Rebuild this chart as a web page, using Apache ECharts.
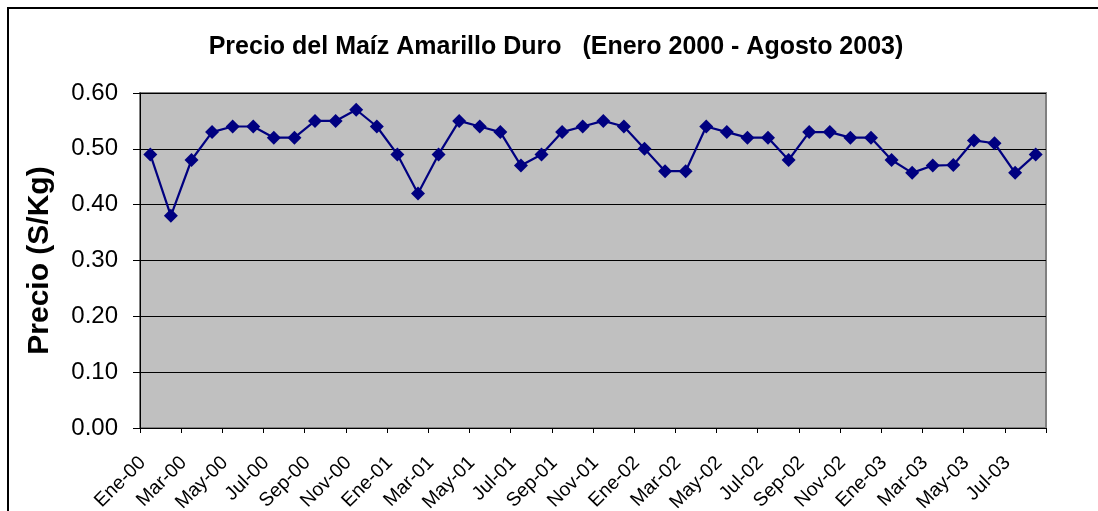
<!DOCTYPE html>
<html>
<head>
<meta charset="utf-8">
<script src="https://cdn.jsdelivr.net/npm/echarts@6/dist/echarts.min.js"></script>
<style>html,body{margin:0;padding:0;background:#fff}#c{width:1098px;height:511px}</style>
</head>
<body>
<div id="c"></div>
<script>
const titleText = 'Precio del Maíz Amarillo Duro   (Enero 2000 - Agosto 2003)';
const yAxisName = 'Precio (S/Kg)';
const categories = [
  'Ene-00','Feb-00','Mar-00','Abr-00','May-00','Jun-00','Jul-00','Ago-00','Sep-00','Oct-00','Nov-00','Dic-00',
  'Ene-01','Feb-01','Mar-01','Abr-01','May-01','Jun-01','Jul-01','Ago-01','Sep-01','Oct-01','Nov-01','Dic-01',
  'Ene-02','Feb-02','Mar-02','Abr-02','May-02','Jun-02','Jul-02','Ago-02','Sep-02','Oct-02','Nov-02','Dic-02',
  'Ene-03','Feb-03','Mar-03','Abr-03','May-03','Jun-03','Jul-03','Ago-03'
];
const prices = [
  0.49,0.38,0.48,0.53,0.54,0.54,0.52,0.52,0.55,0.55,0.57,0.54,
  0.49,0.42,0.49,0.55,0.54,0.53,0.47,0.49,0.53,0.54,0.55,0.54,
  0.50,0.46,0.46,0.54,0.53,0.52,0.52,0.48,0.53,0.53,0.52,0.52,
  0.48,0.457,0.47,0.471,0.515,0.51,0.457,0.49
];
const yMin = 0, yMax = 0.6, yStep = 0.1;

const chart = echarts.init(document.getElementById('c'), null, {renderer:'canvas'});
const font = 'Arial, "Liberation Sans", Helvetica, sans-serif';
chart.setOption({
  animation: false,
  backgroundColor: '#ffffff',
  title: {
    text: titleText,
    left: 551, top: 30, textAlign: 'center',
    textStyle: {fontFamily: font, fontSize: 25, fontWeight: 'bold', color: '#000'}
  },
  graphic: [{
    type: 'rect', silent: true, z: -1,
    shape: {x: 8, y: 8, width: 1200, height: 1000},
    style: {fill: null, stroke: '#000', lineWidth: 2}
  }],
  grid: {
    left: 140, right: 52, top: 93, bottom: 83,
    containLabel: false, outerBoundsMode: 'none',
    show: true, backgroundColor: '#c0c0c0', borderColor: '#808080', borderWidth: 2
  },
  xAxis: {
    type: 'category', data: categories, boundaryGap: true,
    axisLine: {show: true, lineStyle: {color: '#000', width: 1}},
    axisTick: {show: true, interval: 1, length: 5, inside: false, lineStyle: {color: '#000'}},
    axisLabel: {interval: 1, rotate: 45, margin: 24, padding: [0, 11, 0, 0], fontFamily: font, fontSize: 19.5, color: '#000'},
    splitLine: {show: false}
  },
  yAxis: {
    type: 'value', min: yMin, max: yMax, interval: yStep,
    name: yAxisName, nameLocation: 'middle', nameRotate: 90, nameGap: 85,
    nameTextStyle: {fontFamily: font, fontSize: 30, fontWeight: 'bold', color: '#000'},
    axisLine: {show: true, lineStyle: {color: '#000', width: 1}},
    axisTick: {show: true, length: 7, lineStyle: {color: '#000'}},
    axisLabel: {margin: 22, fontFamily: font, fontSize: 24, color: '#000', formatter: v => v.toFixed(2)},
    splitLine: {show: true, lineStyle: {color: '#000', width: 1}}
  },
  series: [{
    type: 'line', data: prices,
    symbol: 'diamond', symbolSize: 14, showAllSymbol: true,
    lineStyle: {color: '#000080', width: 2.2},
    itemStyle: {color: '#000080'}
  }]
});
</script>
</body>
</html>
